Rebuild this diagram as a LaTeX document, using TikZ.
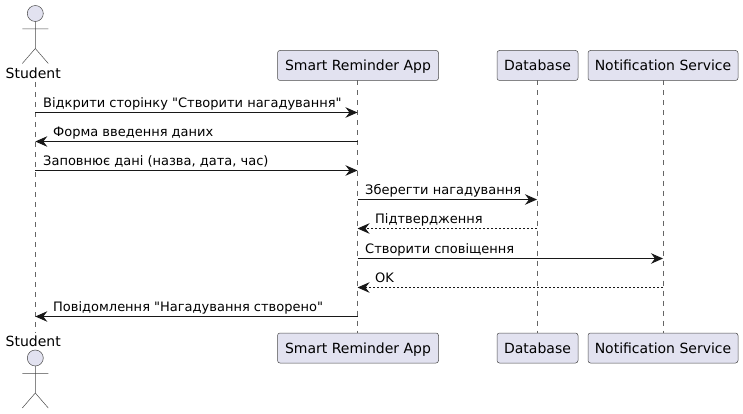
\documentclass[tikz,border=0pt]{standalone}
\usepackage{fontspec}
\setmainfont[Ligatures=TeXOff]{DejaVu Sans}
\usetikzlibrary{arrows.meta,calc}
\definecolor{pfill}{HTML}{E2E2F0}
\definecolor{pline}{HTML}{4A4A4A}
\definecolor{msgline}{HTML}{181818}
\tikzset{
  x=1pt,y=-1pt,
  part/.style={draw=pline,fill=pfill,rounded corners=2.5pt,line width=0.5pt,minimum height=30pt,inner sep=0pt,font=\fontsize{14}{16}\selectfont,text=black,text height=11.5pt,text depth=1.5pt},
  life/.style={draw=pline!85!white,line width=0.5pt,dash pattern=on 5pt off 5pt},
  actorline/.style={draw=pline,line width=0.5pt},
  msg/.style={draw=msgline,line width=1pt,-{Stealth[length=12pt,width=10.5pt,inset=4pt]}},
  reply/.style={msg,dash pattern=on 2pt off 2pt},
  lbl/.style={anchor=base west,inner sep=0pt,font=\fontsize{13}{15}\selectfont,text=black},
  aname/.style={anchor=base,inner sep=0pt,font=\fontsize{14}{16}\selectfont,text=black},
}
\newcommand{\stick}[2]{%
  \draw[actorline,fill=pfill] (#1,#2) circle[radius=8];
  \draw[actorline] (#1,#2+8) -- (#1,#2+35) (#1-13,#2+15.5) -- (#1+13,#2+15.5)
    (#1-13,#2+50) -- (#1,#2+35) -- (#1+13,#2+50);
}
\begin{document}
\begin{tikzpicture}
\useasboundingbox (0,0) rectangle (743,414);
\coordinate (stTop) at (35.3,82);
\coordinate (stBot) at (35.3,333);
\coordinate (appTop) at (357.5,80.5);
\coordinate (appBot) at (357.5,333);
\coordinate (dbTop) at (537,80.5);
\coordinate (dbBot) at (537,333);
\coordinate (nsTop) at (663,80.5);
\coordinate (nsBot) at (663,333);
\draw[life] (stTop) -- (stBot);
\draw[life] (appTop) -- (appBot);
\draw[life] (dbTop) -- (dbBot);
\draw[life] (nsTop) -- (nsBot);
\stick{35.3}{13.5}
\node[aname] (stA) at (33.3,78.5) {Student};
\node[aname] (stB) at (33.3,346.5) {Student};
\stick{35.3}{358}
\node[part,minimum width=161pt] (appA) at (358,65.5) {Smart Reminder App};
\node[part,minimum width=81pt] (dbA) at (537.5,65.5) {Database};
\node[part,minimum width=150pt] (nsA) at (663,65.5) {Notification Service};
\node[part,minimum width=161pt] (appB) at (358,348) {Smart Reminder App};
\node[part,minimum width=81pt] (dbB) at (537.5,348) {Database};
\node[part,minimum width=150pt] (nsB) at (663,348) {Notification Service};
\foreach \n/\y in {1/112.5,2/141.5,3/170.5,4/199.5,5/228.5,6/258.5,7/287.5,8/316.5}{
  \coordinate (s\n) at (35.3,\y);
  \coordinate (a\n) at (357.5,\y);
  \coordinate (d\n) at (537,\y);
  \coordinate (n\n) at (663,\y);
}
\draw[msg] (s1) -- (a1);
\draw[msg] (a2) -- (s2);
\draw[msg] (s3) -- (a3);
\draw[msg] (a4) -- (d4);
\draw[reply] (d5) -- (a5);
\draw[msg] (a6) -- (n6);
\draw[reply] (n7) -- (a7);
\draw[msg] (a8) -- (s8);
\node[lbl] (m1) at (43,107.5) {Відкрити сторінку "Створити нагадування"};
\node[lbl] (m2) at (53,136.5) {Форма введення даних};
\node[lbl] (m3) at (43,165.5) {Заповнює дані (назва, дата, час)};
\node[lbl] (m4) at (365,194.5) {Зберегти нагадування};
\node[lbl] (m5) at (375,223.5) {Підтвердження};
\node[lbl] (m6) at (365,253.5) {Створити сповіщення};
\node[lbl] (m7) at (375,282.5) {OK};
\node[lbl] (m8) at (53,311.5) {Повідомлення "Нагадування створено"};
\end{tikzpicture}
\end{document}
